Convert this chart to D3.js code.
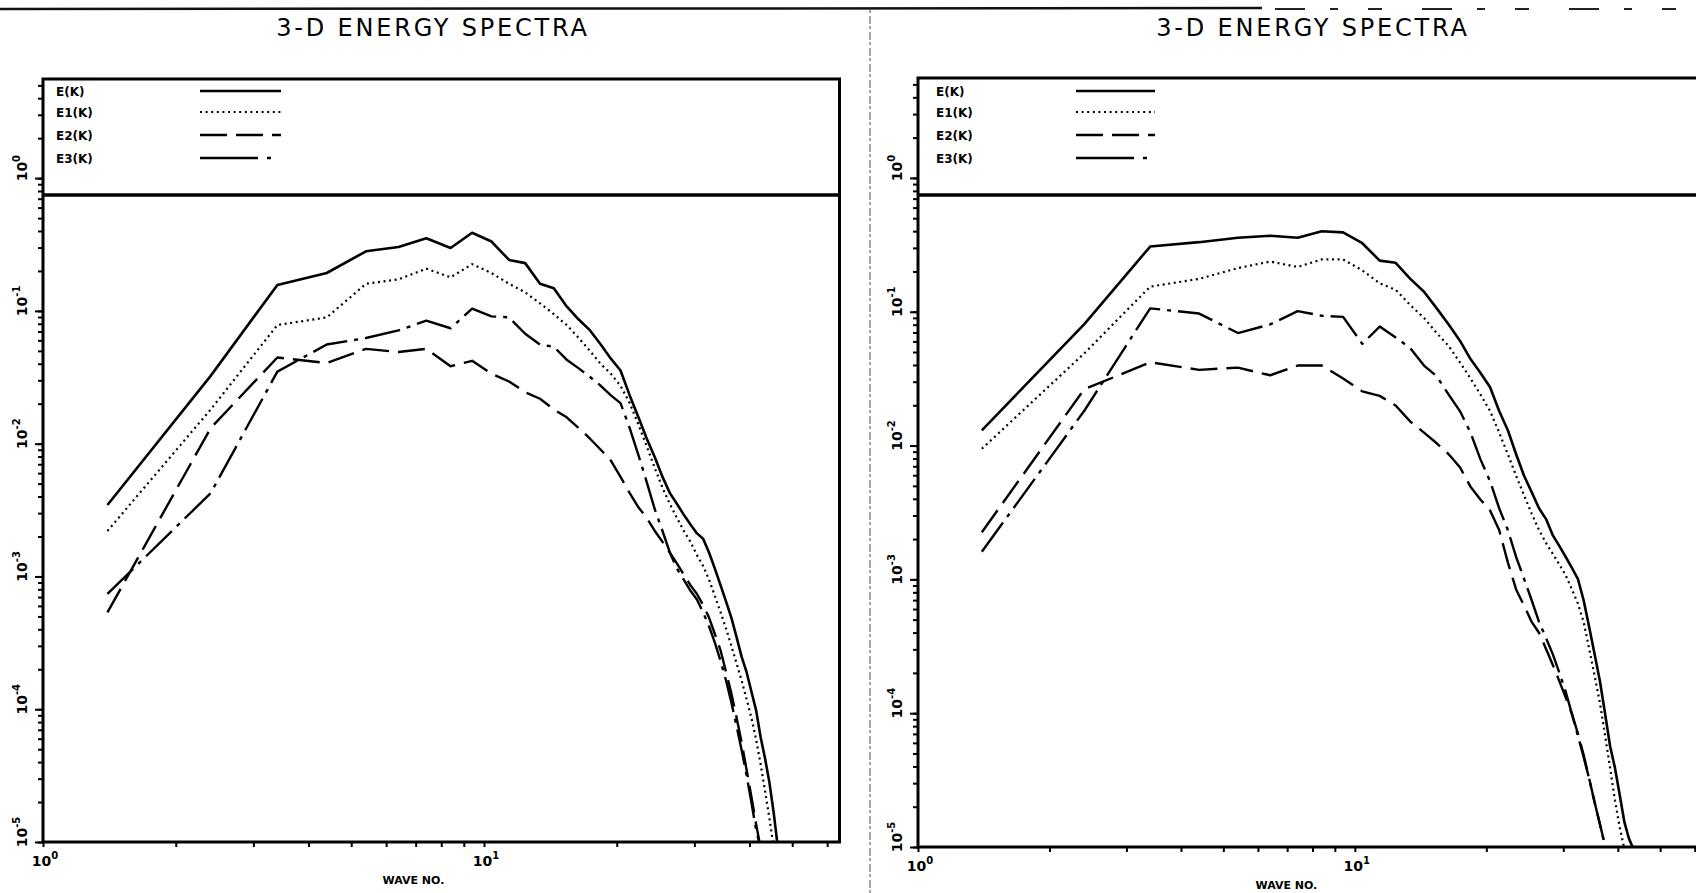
<!DOCTYPE html>
<html><head><meta charset="utf-8">
<script src="https://cdn.jsdelivr.net/npm/d3@7"></script>
<style>
body{margin:0;background:#fff}
svg{display:block}
text{font-family:"DejaVu Sans",sans-serif;fill:#000}
</style>
</head><body>
<svg id="c" width="1696" height="893"></svg>
<script>
// ---------- data ----------
const titleText = "3-D ENERGY SPECTRA";
const xAxisTitle = "WAVE NO.";
const seriesNames = ["E(K)", "E1(K)", "E2(K)", "E3(K)"];
const yTickExponents = [0, -1, -2, -3, -4, -5];
const xTickExponents = [0, 1];
const xDomain = [1, 64];
const yDomain = [1e-5, 5.58];
const legendFloor = 0.745; // value where the legend box ends

const waveNo = [1.4, 2.4, 3.4, 4.4, 5.4, 6.4, 7.4, 8.4, 9.4, 10.4, 11.4, 12.4, 13.4, 14.4, 15.4, 16.4,
  17.4, 18.4, 19.4, 20.4, 21.4, 22.4, 23.4, 24.4, 25.4, 26.4, 27.4, 28.4, 29.4, 30.4, 31.4, 32.4,
  33.4, 34.4, 35.4, 36.4, 37.4, 38.4, 39.4, 40.4, 41.4, 42.4, 43.4, 44.4, 45.4, 46.4];

// left panel
const leftE = [0.00345, 0.0324, 0.157, 0.193, 0.281, 0.303, 0.353, 0.298, 0.388, 0.333, 0.242, 0.229,
  0.160, 0.148, 0.108, 0.0861, 0.0713, 0.0558, 0.0437, 0.0356, 0.0231, 0.0158, 0.0109, 0.00789,
  0.00562, 0.00424, 0.00351, 0.00291, 0.00246, 0.00211, 0.00192, 0.00151, 0.00114, 0.000857,
  0.000646, 0.000488, 0.000348, 0.000248, 0.000190, 0.000136, 0.0000985, 0.0000615, 0.0000423,
  0.0000279, 0.0000165, 0.0000090];
const leftE1 = [0.00220, 0.0181, 0.0783, 0.0893, 0.160, 0.173, 0.208, 0.179, 0.225, 0.193, 0.160, 0.138,
  0.114, 0.0945, 0.0783, 0.0625, 0.0499, 0.0398, 0.0336, 0.0273, 0.0202, 0.0139, 0.00953, 0.00654,
  0.00466, 0.00351, 0.00275, 0.00220, 0.00182, 0.00145, 0.00120, 0.000942, 0.000710, 0.000536,
  0.000404, 0.000299, 0.000221, 0.000164, 0.000119, 0.0000863, 0.0000593, 0.0000385, 0.0000240,
  0.0000150, 0.0000090];
const leftE2 = [0.000536, 0.0131, 0.0446, 0.0405, 0.0518, 0.0490, 0.0518, 0.0383, 0.0421, 0.0336, 0.0294,
  0.0244, 0.0218, 0.0181, 0.0158, 0.0131, 0.0109, 0.00900, 0.00746, 0.00562, 0.00424, 0.00332,
  0.00275, 0.00220, 0.00182, 0.00151, 0.00125, 0.00103, 0.000857, 0.000738, 0.000611, 0.000488,
  0.000367, 0.000277, 0.000190, 0.000131, 0.0000863, 0.0000560, 0.0000350, 0.0000219, 0.0000137,
  0.0000090];
const leftE3 = [0.000738, 0.00424, 0.0349, 0.0558, 0.0625, 0.0713, 0.0844, 0.0740, 0.104, 0.0910, 0.0893,
  0.0673, 0.0558, 0.0537, 0.0429, 0.0369, 0.0318, 0.0273, 0.0231, 0.0202, 0.0131, 0.00819, 0.00512,
  0.00320, 0.00220, 0.00151, 0.00114, 0.000942, 0.000780, 0.000671, 0.000536, 0.000420, 0.000316,
  0.000230, 0.000164, 0.000112, 0.0000743, 0.0000491, 0.0000318, 0.0000199, 0.0000124, 0.0000090];

// right panel
const rightE = [0.0130, 0.0804, 0.307, 0.331, 0.357, 0.370, 0.357, 0.399, 0.392, 0.325, 0.241, 0.232,
  0.176, 0.141, 0.106, 0.0804, 0.0608, 0.0443, 0.0348, 0.0273, 0.0181, 0.0130, 0.00861, 0.00594,
  0.00449, 0.00340, 0.00282, 0.00213, 0.00177, 0.00147, 0.00122, 0.00101, 0.000698, 0.000438,
  0.000275, 0.000173, 0.0000989, 0.0000566, 0.0000390, 0.0000245, 0.0000154, 0.0000116, 0.0000097];
const rightE1 = [0.00946, 0.0487, 0.154, 0.176, 0.212, 0.237, 0.216, 0.246, 0.246, 0.204, 0.163, 0.146,
  0.112, 0.0899, 0.0693, 0.0554, 0.0419, 0.0317, 0.0240, 0.0181, 0.0125, 0.00861, 0.00594, 0.00425,
  0.00310, 0.00234, 0.00187, 0.00155, 0.00129, 0.00107, 0.000841, 0.000661, 0.000481, 0.000302,
  0.000190, 0.000119, 0.0000682, 0.0000390, 0.0000223, 0.0000140, 0.0000097];
const rightE2 = [0.00225, 0.0263, 0.0419, 0.0368, 0.0382, 0.0335, 0.0396, 0.0396, 0.0317, 0.0254, 0.0235,
  0.0199, 0.0151, 0.0125, 0.0104, 0.00861, 0.00689, 0.00493, 0.00394, 0.00327, 0.00234, 0.00134,
  0.000841, 0.000637, 0.000481, 0.000399, 0.000302, 0.000229, 0.000173, 0.000131, 0.0000989,
  0.0000708, 0.0000488, 0.0000324, 0.0000215, 0.0000148, 0.0000102];
const rightE3 = [0.00161, 0.0181, 0.106, 0.0969, 0.0693, 0.0804, 0.101, 0.0933, 0.0916, 0.0575, 0.0775,
  0.0643, 0.0534, 0.0396, 0.0329, 0.0240, 0.0181, 0.0125, 0.00785, 0.00541, 0.00340, 0.00234,
  0.00147, 0.00101, 0.000698, 0.000481, 0.000364, 0.000275, 0.000200, 0.000144, 0.0000989,
  0.0000682, 0.0000470, 0.0000324, 0.0000215, 0.0000148, 0.0000102];

// ---------- drawing ----------
const svg = d3.select("#c");
svg.append("rect").attr("width", 1696).attr("height", 893).attr("fill", "#fff");

// scan artefacts: page top edge and fold line
svg.append("line").attr("x1", 0).attr("x2", 1262).attr("y1", 9).attr("y2", 8)
  .attr("stroke", "#111").attr("stroke-width", 2.5);
svg.append("line").attr("x1", 1275).attr("x2", 1696).attr("y1", 9).attr("y2", 9)
  .attr("stroke", "#222").attr("stroke-width", 2).attr("stroke-dasharray", "30 25 8 30 14 40");
svg.append("line").attr("x1", 870).attr("x2", 870).attr("y1", 10).attr("y2", 893)
  .attr("stroke", "#888").attr("stroke-width", 1.5).attr("stroke-dasharray", "3 3 8 2");

const styles = [
  {dash: null, w: 2.6},
  {dash: "2 3.6", w: 2.2},
  {dash: "27 9", w: 2.4},
  {dash: "36 7 4 7", w: 2.4}
];

const panels = [
  {x0: 43, x1: 839.5, yTop: 79, yBot: 842, titleX: 433, series: [leftE, leftE1, leftE2, leftE3], legX: 56, legLine: [200, 281], clip: "clipL"},
  {x0: 918, x1: 1707, yTop: 78, yBot: 847, titleX: 1313, series: [rightE, rightE1, rightE2, rightE3], legX: 936, legLine: [1076, 1155], clip: "clipR"}
];

panels.forEach(p => {
  const x = d3.scaleLog().domain(xDomain).range([p.x0, p.x1]);
  const y = d3.scaleLog().domain(yDomain).range([p.yBot, p.yTop]);
  const g = svg.append("g");

  // title
  g.append("text").attr("x", p.titleX).attr("y", 36).attr("text-anchor", "middle")
    .attr("font-size", 24).attr("letter-spacing", 2.8).text(titleText);

  // clip
  svg.append("clipPath").attr("id", p.clip).append("rect")
    .attr("x", p.x0).attr("y", y(legendFloor)).attr("width", p.x1 - p.x0).attr("height", p.yBot - y(legendFloor));

  // curves
  const line = d3.line().x(d => x(d[0])).y(d => y(d[1]));
  p.series.forEach((vals, i) => {
    const pts = vals.map((v, j) => [waveNo[j], v]);
    g.append("path").attr("d", line(pts)).attr("fill", "none")
      .attr("stroke", "#000").attr("stroke-width", styles[i].w)
      .attr("stroke-dasharray", styles[i].dash)
      .attr("stroke-linejoin", "round")
      .attr("clip-path", `url(#${p.clip})`);
  });

  // y axis minor + major ticks (outward, left)
  const yMinor = d3.axisLeft(y).tickValues(y.ticks().filter(v => v <= yDomain[1])).tickSize(5).tickFormat("");
  const gy = g.append("g").attr("transform", `translate(${p.x0},0)`).call(yMinor);
  gy.select(".domain").remove();
  gy.selectAll(".tick line").attr("stroke-width", 2);
  const yMajor = d3.axisLeft(y).tickValues(yTickExponents.map(e => Math.pow(10, e))).tickSize(8).tickFormat("");
  const gy2 = g.append("g").attr("transform", `translate(${p.x0},0)`).call(yMajor);
  gy2.select(".domain").remove();
  gy2.selectAll(".tick line").attr("stroke-width", 2);

  // y labels, rotated
  yTickExponents.forEach(e => {
    const t = g.append("text").attr("transform", `translate(${p.x0 - 16},${y(Math.pow(10, e)) - 10}) rotate(-90)`)
      .attr("text-anchor", "middle").attr("font-size", 14).attr("font-weight", "bold");
    t.append("tspan").text("10");
    t.append("tspan").attr("font-size", 10).attr("dy", -7).text(e);
  });

  // x axis ticks (outward, down)
  const xAx = d3.axisBottom(x).tickValues(x.ticks()).tickSize(5).tickFormat("");
  const gx = g.append("g").attr("transform", `translate(0,${p.yBot})`).call(xAx);
  gx.select(".domain").remove();
  gx.selectAll(".tick line").attr("stroke-width", 2);

  xTickExponents.forEach(e => {
    const t = g.append("text").attr("x", x(Math.pow(10, e)) + 2).attr("y", p.yBot + 24)
      .attr("text-anchor", "middle").attr("font-size", 14).attr("font-weight", "bold");
    t.append("tspan").text("10");
    t.append("tspan").attr("font-size", 10).attr("dy", -7).text(e);
  });

  g.append("text").attr("x", (p.x0 + x(10)) / 2 + 150).attr("y", p.yBot + 42)
    .attr("text-anchor", "middle").attr("font-size", 11).attr("font-weight", "bold").text(xAxisTitle);

  // frame: plot box + legend separator
  g.append("rect").attr("x", p.x0).attr("y", p.yTop).attr("width", p.x1 - p.x0).attr("height", p.yBot - p.yTop)
    .attr("fill", "none").attr("stroke", "#000").attr("stroke-width", 3);
  g.append("line").attr("x1", p.x0).attr("x2", p.x1).attr("y1", y(legendFloor)).attr("y2", y(legendFloor))
    .attr("stroke", "#000").attr("stroke-width", 3.5);

  // legend
  const legY = [91, 112, 135, 158];
  seriesNames.forEach((n, i) => {
    g.append("text").attr("x", p.legX).attr("y", legY[i] + 5).attr("font-size", 12).attr("font-weight", "bold").text(n);
    g.append("line").attr("x1", p.legLine[0]).attr("x2", p.legLine[1]).attr("y1", legY[i]).attr("y2", legY[i])
      .attr("stroke", "#000").attr("stroke-width", styles[i].w).attr("stroke-dasharray", i === 3 ? "58 9 4 20" : styles[i].dash);
  });
});
</script>
</body></html>
